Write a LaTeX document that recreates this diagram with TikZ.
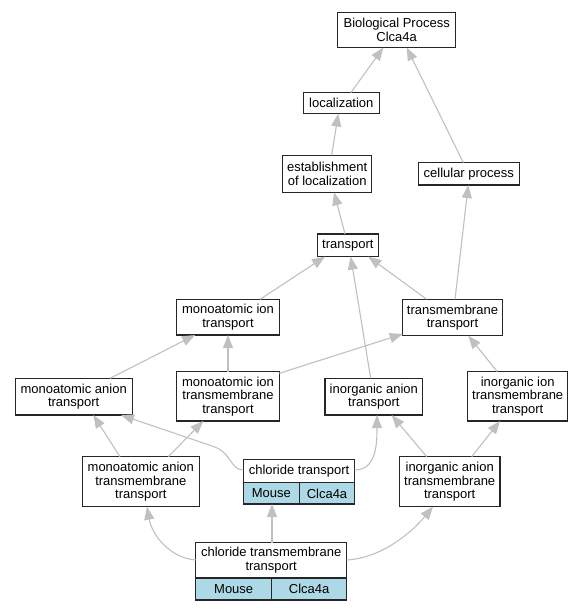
\documentclass[tikz,border=0pt]{standalone}
\usepackage{fontspec}
\setmainfont{Liberation Sans}
\usetikzlibrary{arrows.meta}
\definecolor{edgegray}{HTML}{C0C0C0}
\definecolor{cellblue}{HTML}{ADD8E6}
\begin{document}
\begin{tikzpicture}[x=1pt,y=-1pt,
  box/.style={draw=black!85,line width=1.2pt,fill=white,inner sep=0pt,outer sep=0pt,
    align=center,font=\fontsize{13}{13.5}\selectfont},
  cellbox/.style={box,fill=cellblue},
  edge/.style={draw=edgegray,line width=1.1pt,-{Triangle[length=13pt,width=10pt,fill=edgegray]}}]
\useasboundingbox (0,0) rectangle (584,611);
% nodes
\node[box,minimum width=118pt,minimum height=35pt] (bp) at (396.7,30) {Biological Process\\Clca4a};
\node[box,minimum width=76pt,minimum height=21pt] (loc) at (341.3,103) {localization};
\node[box,minimum width=89pt,minimum height=37pt] (est) at (327.2,173.8) {establishment\\of localization};
\node[box,minimum width=101pt,minimum height=22.5pt] (cell) at (468.8,173.8) {cellular process};
\node[box,minimum width=61pt,minimum height=22.7pt] (tr) at (347.8,245.3) {transport};
\node[box,minimum width=102.6pt,minimum height=35.7pt] (mit) at (228,317.2) {monoatomic ion\\transport};
\node[box,minimum width=99.6pt,minimum height=36.4pt] (tmt) at (452.5,317.5) {transmembrane\\transport};
\node[box,minimum width=117pt,minimum height=36.7pt] (mat) at (73.7,396.7) {monoatomic anion\\transport};
\node[box,minimum width=102.6pt,minimum height=49.3pt] (mitm) at (228,396.3) {monoatomic ion\\transmembrane\\transport};
\node[box,minimum width=97.7pt,minimum height=36.7pt] (iat) at (373.8,396.7) {inorganic anion\\transport};
\node[box,minimum width=100pt,minimum height=49.3pt] (iitm) at (517.7,396.3) {inorganic ion\\transmembrane\\transport};
\node[box,minimum width=117pt,minimum height=50pt] (matm) at (140.8,481.7) {monoatomic anion\\transmembrane\\transport};
\node[box,minimum width=100.7pt,minimum height=50pt] (iatm) at (449.7,481.7) {inorganic anion\\transmembrane\\transport};
% chloride transport record
\node[box,minimum width=111.4pt,minimum height=23.4pt] (ct) at (299,471) {chloride transport};
\node[cellbox,minimum width=56pt,minimum height=21.3pt] (ctm) at (271.3,493.35) {Mouse};
\node[cellbox,minimum width=55.4pt,minimum height=21.3pt] (ctg) at (327,493.35) {Clca4a};
% chloride transmembrane transport record
\node[box,minimum width=151pt,minimum height=35.3pt] (ctt) at (271.2,560.35) {chloride transmembrane\\transport};
\node[cellbox,minimum width=76pt,minimum height=22pt] (cttm) at (233.7,589) {Mouse};
\node[cellbox,minimum width=75pt,minimum height=22pt] (cttg) at (309.2,589) {Clca4a};
% edges
\draw[edge] (loc.north -| 351,0) -- (bp.south -| 383.3,0);
\draw[edge] (cell.north -| 463.3,0) -- (bp.south -| 406.7,0);
\draw[edge] (est.north -| 331.7,0) -- (loc.south -| 338.3,0);
\draw[edge] (tr.north -| 345,0) -- (est.south -| 334,0);
\draw[edge] (tmt.north -| 455,0) -- (cell.south -| 468.3,0);
\draw[edge] (mit.north -| 260,0) -- (tr.south -| 325,0);
\draw[edge] (tmt.north -| 426.7,0) -- (tr.south -| 368.3,0);
\draw[edge] (iat.north -| 370.7,0) -- (tr.south -| 350.7,0);
\draw[edge] (mitm.north) -- (mit.south);
\draw[edge] (mitm.east |- 0,373.3) -- (tmt.west |- 0,334);
\draw[edge] (mat.north -| 110,0) -- (mit.south -| 195,0);
\draw[edge] (iitm.north -| 497.3,0) -- (tmt.south -| 468.3,0);
\draw[edge] (matm.north -| 120,0) -- (mat.south -| 93.3,0);
\draw[edge] (matm.north -| 168.3,0) -- (mitm.south -| 203.3,0);
\draw[edge] (ct.west |- 0,470) .. controls (230,470) and (232,452) .. (212,446) -- (mat.south -| 121,0);
\draw[edge] (ct.east |- 0,470) .. controls (376,470) and (377,445) .. (iat.south -| 377,0);
\draw[edge] (iatm.north -| 426.7,0) -- (iat.south -| 391.7,0);
\draw[edge] (iatm.north -| 471.7,0) -- (iitm.south -| 500,0);
\draw[edge] (ctt.west |- 0,560) .. controls (170,558) and (152,535) .. (matm.south -| 147,0);
\draw[edge] (ctt.north -| 272,0) -- (ctm.south -| 272,0);
\draw[edge] (ctt.east |- 0,560) .. controls (382,558) and (412,532) .. (iatm.south -| 433,0);
\end{tikzpicture}
\end{document}
